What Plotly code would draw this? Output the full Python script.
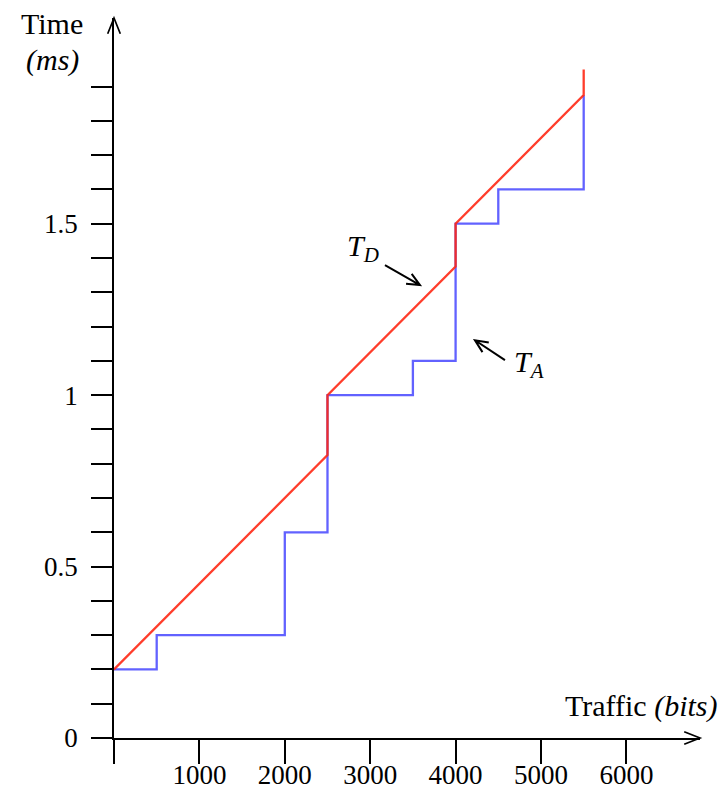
import math
import plotly.graph_objects as go

# ---- data ----
ta_traffic = [0, 500, 2000, 2500, 3500, 4000, 4500, 5500]          # bits
ta_time = [0.2, 0.3, 0.6, 1.0, 1.1, 1.5, 1.6, 1.875]               # ms
td_traffic = [0, 2500, 2500, 4000, 4000, 5500, 5500]
td_time = [0.2, 0.825, 1.0, 1.375, 1.5, 1.875, 1.95]
x_tick_vals = [1000, 2000, 3000, 4000, 5000, 6000]
x_tick_text = ["1000", "2000", "3000", "4000", "5000", "6000"]
y_tick_vals = [0, 0.5, 1.0, 1.5]
y_tick_text = ["0", "0.5", "1", "1.5"]
y_minor_vals = [0.1, 0.2, 0.3, 0.4, 0.6, 0.7, 0.8, 0.9, 1.1, 1.2, 1.3, 1.4, 1.6, 1.7, 1.8, 1.9]

# ---- layout geometry (page has an 8px body margin) ----
OFF = 8
FW, FH = 726 - OFF, 790 - OFF
L, R, T, B = 114 - OFF, 26, 18 - OFF, 52
W, H = FW - L - R, FH - T - B
XR = [0, 6862]
YR = [0, 2.1]
FONT = "Liberation Serif"
FS = 27
FS_LBL = 30


def to_px(x, y):
    # page pixel of a data point
    return (OFF + L + (x - XR[0]) / (XR[1] - XR[0]) * W,
            OFF + T + H - (y - YR[0]) / (YR[1] - YR[0]) * H)


def px_to_paper(px, py):
    return ((px - OFF - L) / W, (OFF + T + H - py) / H)


def v_arrow(tail_px, tip_px, head=11, spread=0.45, shaft=True):
    dx, dy = tip_px[0] - tail_px[0], tip_px[1] - tail_px[1]
    ang = math.atan2(dy, dx)
    a1 = (tip_px[0] - head * math.cos(ang - spread), tip_px[1] - head * math.sin(ang - spread))
    a2 = (tip_px[0] - head * math.cos(ang + spread), tip_px[1] - head * math.sin(ang + spread))
    t, p, q1, q2 = [px_to_paper(*pt) for pt in (tail_px, tip_px, a1, a2)]
    path = f"M{q1[0]},{q1[1]} L{p[0]},{p[1]} L{q2[0]},{q2[1]}"
    if shaft:
        path = f"M{t[0]},{t[1]} L{p[0]},{p[1]} " + path
    return path


fig = go.Figure()
fig.add_trace(go.Scatter(x=ta_traffic, y=ta_time, mode="lines", line_shape="hv",
                         line=dict(color="rgba(70,70,255,0.85)", width=2.3),
                         hoverinfo="skip", showlegend=False))
fig.add_trace(go.Scatter(x=td_traffic, y=td_time, mode="lines",
                         line=dict(color="rgba(255,40,20,0.9)", width=2.3),
                         hoverinfo="skip", showlegend=False))

shapes = []
ytip = to_px(0, YR[1])
shapes.append(dict(type="path", xref="paper", yref="paper",
                   path=v_arrow((ytip[0], ytip[1] + 30), ytip, head=17, spread=0.38, shaft=False),
                   line=dict(color="black", width=1.7)))
xtip = to_px(XR[1], 0)
shapes.append(dict(type="path", xref="paper", yref="paper",
                   path=v_arrow((xtip[0] - 30, xtip[1]), xtip, head=17, spread=0.38, shaft=False),
                   line=dict(color="black", width=1.7)))
td_tail, td_tip = to_px(3173, 1.379), to_px(3583, 1.321)
ta_tail, ta_tip = to_px(4578, 1.102), to_px(4227, 1.160)
for tl, tp in ((td_tail, td_tip), (ta_tail, ta_tip)):
    shapes.append(dict(type="path", xref="paper", yref="paper",
                       path=v_arrow(tl, tp, head=14, spread=0.42),
                       line=dict(color="black", width=2)))

annotations = [
    dict(text="<i>T<sub>D</sub></i>", x=2916, y=1.43, xref="x", yref="y", showarrow=False,
         font=dict(family=FONT, size=FS_LBL, color="black")),
    dict(text="<i>T<sub>A</sub></i>", x=4860, y=1.09, xref="x", yref="y", showarrow=False,
         font=dict(family=FONT, size=FS_LBL, color="black")),
]
p = px_to_paper(52, 24)
annotations.append(dict(text="Time", x=p[0], y=p[1], xref="paper", yref="paper", showarrow=False,
                        xanchor="center", yanchor="middle", font=dict(family=FONT, size=FS_LBL, color="black")))
p = px_to_paper(52, 60)
annotations.append(dict(text="<i>(ms)</i>", x=p[0], y=p[1], xref="paper", yref="paper", showarrow=False,
                        xanchor="center", yanchor="middle", font=dict(family=FONT, size=FS_LBL, color="black")))
p = px_to_paper(720, 706)
annotations.append(dict(text="Traffic <i>(bits)</i>", x=p[0], y=p[1], xref="paper", yref="paper",
                        showarrow=False, xanchor="right", yanchor="middle",
                        font=dict(family=FONT, size=FS_LBL, color="black")))

fig.update_layout(
    width=FW, height=FH,
    margin=dict(l=L, r=R, t=T, b=B, pad=0, autoexpand=False),
    paper_bgcolor="white", plot_bgcolor="white",
    shapes=shapes, annotations=annotations,
    xaxis=dict(range=XR, showgrid=False, zeroline=False, showline=True, linecolor="black",
               linewidth=1.5, ticks="outside", ticklen=24, tickwidth=1.5, tickcolor="black",
               tickmode="array", tickvals=x_tick_vals, ticktext=x_tick_text, automargin=False,
               ticklabelstandoff=-12,
               minor=dict(tickmode="array", tickvals=[0], ticks="outside", ticklen=24,
                          tickwidth=1.5, tickcolor="black", showgrid=False),
               tickfont=dict(family=FONT, size=FS, color="black"), fixedrange=True),
    yaxis=dict(range=YR, showgrid=False, zeroline=False, showline=True, linecolor="black",
               linewidth=1.5, ticks="outside", ticklen=21, tickwidth=1.5, tickcolor="black",
               tickmode="array", tickvals=y_tick_vals, ticktext=y_tick_text,
               ticklabelstandoff=8, automargin=False,
               minor=dict(tickmode="array", tickvals=y_minor_vals, ticks="outside", ticklen=21,
                          tickwidth=1.5, tickcolor="black", showgrid=False),
               tickfont=dict(family=FONT, size=FS, color="black"), fixedrange=True),
)

fig.write_html("out.html")
